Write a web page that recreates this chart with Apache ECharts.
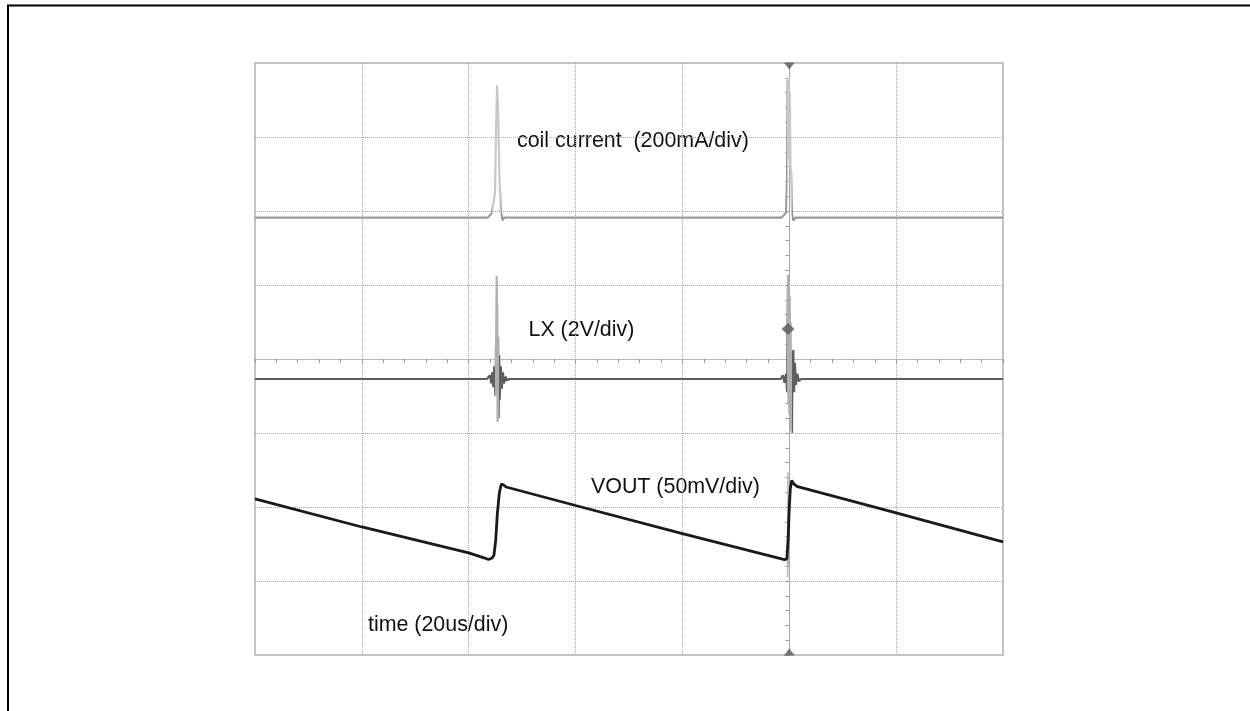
<!DOCTYPE html>
<html>
<head>
<meta charset="utf-8">
<script src="https://cdn.jsdelivr.net/npm/echarts@6/dist/echarts.min.js"></script>
<style>
  html, body { margin: 0; padding: 0; background: #ffffff; }
  #chart { width: 1250px; height: 711px; }
</style>
</head>
<body>
<div id="chart"></div>
<script>
// Time in microseconds relative to the trigger point (20 us/div, 7 divisions)
// Values in screen divisions relative to the centre line (8 divisions)

// coil current (200mA/div)
const coilT = [-100, -56.4, -55.7, -55.4, -55.08, -54.9, -54.7, -54.46, -54.27, -54.0, -53.64, -53.4,
               -1.42, -0.61, -0.42, -0.32, -0.22, -0.12, 0.0, 0.1, 0.22, 0.35, 0.5, 0.76, 1.2, 40];
const coilV = [1.91, 1.91, 1.97, 2.10, 2.24, 3.05, 3.70, 3.27, 2.51, 2.01, 1.87, 1.91,
               1.91, 1.98, 2.45, 3.77, 2.7, 3.80, 2.9, 3.6, 2.6, 2.51, 1.97, 1.87, 1.91, 1.91];

// LX (2V/div)
const lxT = [-100, -56.6, -56.0, -55.8, -55.6, -55.4, -55.2, -55.0, -54.85, -54.75, -54.7, -54.65, -54.6,
             -54.5, -54.4, -54.3, -54.2, -54.0, -53.8, -53.6, -53.4, -53.1, -52.8, -52.4,
             -1.6, -1.2, -0.9, -0.6, -0.4, -0.3, -0.22, -0.15, -0.08, 0.0, 0.08, 0.16, 0.24, 0.35,
             0.5, 0.6, 0.75, 0.9, 1.05, 1.25, 1.5, 1.8, 2.2, 40];
const lxV = [-0.27, -0.27, -0.22, -0.33, -0.18, -0.38, -0.10, -0.50, 0.40, 1.12, -0.20, 0.75, -0.85,
             0.30, -0.80, 0.05, -0.55, -0.10, -0.40, -0.18, -0.33, -0.24, -0.29, -0.27,
             -0.27, -0.22, -0.32, -0.20, -0.45, 0.6, 1.14, -0.6, 1.0, -0.75, 0.85, -0.8, 0.5, -0.95,
             -1.0, 0.05, 0.12, -0.45, -0.05, -0.35, -0.2, -0.3, -0.27, -0.27];

// VOUT (50mV/div)
const voutT = [-100, -80, -60, -57, -56.3, -55.6, -55.27, -54.95, -54.64, -54.27, -53.9, -53.5, -53.0,
               -40, -20, -2, -0.9, -0.45, -0.2, 0.0, 0.2, 0.45, 0.75, 1.4, 20, 40];
const voutV = [-1.89, -2.27, -2.62, -2.69, -2.71, -2.69, -2.65, -2.45, -2.09, -1.81, -1.69, -1.70, -1.73,
               -1.98, -2.36, -2.69, -2.71, -2.70, -2.40, -2.00, -1.75, -1.64, -1.68, -1.72, -2.08, -2.47];

// VOUT switching glitch at the trigger
const glitchT = [-0.35, -0.3, -0.25, -0.2, -0.15];
const glitchV = [-2.70, -2.95, -1.53, -2.80, -2.0];

// scope markers: trigger position (top/bottom) and LX ground marker
const trigMarkT = [0, 0];
const trigMarkV = [4, -4];
const lxMarkT = [-0.24];
const lxMarkV = [0.405];

// annotation texts
const labels = ['coil current  (200mA/div)', 'LX (2V/div)', 'VOUT (50mV/div)', 'time (20us/div)'];

const zip = (a, b) => a.map((v, i) => [v, b[i]]);

const chart = echarts.init(document.getElementById('chart'), null, { renderer: 'canvas' });

const gridDash = [1, 1];
const gridColor = '#a8a8a8';
const font = '21.4px "Liberation Sans", Arial, sans-serif';

const option = {
  animation: false,
  backgroundColor: '#ffffff',
  grid: {
    left: 255, top: 63, width: 748, height: 592,
    show: true, borderColor: '#c4c4c4', borderWidth: 2, backgroundColor: 'transparent'
  },
  xAxis: {
    type: 'value', min: -100, max: 40, interval: 20,
    axisLabel: { show: false },
    axisLine: { show: true, onZero: true, lineStyle: { color: gridColor, type: gridDash, width: 1 } },
    axisTick: { show: true, length: 4, lineStyle: { color: '#9a9a9a' } },
    minorTick: { show: true, splitNumber: 5, length: 4, lineStyle: { color: '#9a9a9a' } },
    splitLine: { show: true, showMinLine: false, showMaxLine: false,
                 lineStyle: { color: gridColor, type: gridDash, width: 1 } }
  },
  yAxis: {
    type: 'value', min: -4, max: 4, interval: 1,
    axisLabel: { show: false },
    axisLine: { show: true, onZero: true, lineStyle: { color: gridColor, type: gridDash, width: 1 } },
    axisTick: { show: true, length: 4, lineStyle: { color: '#9a9a9a' } },
    minorTick: { show: true, splitNumber: 5, length: 4, lineStyle: { color: '#9a9a9a' } },
    splitLine: { show: true, showMinLine: false, showMaxLine: false,
                 lineStyle: { color: gridColor, type: gridDash, width: 1 } }
  },
  visualMap: [
    {
      type: 'piecewise', show: false, dimension: 0, seriesIndex: 0,
      pieces: [
        { gt: -55.6, lte: -53.9, color: '#c8c8c8' },
        { gt: -0.5, lte: 0.6, color: '#c8c8c8' }
      ],
      outOfRange: { color: '#9a9a9a' }
    },
    {
      type: 'piecewise', show: false, dimension: 0, seriesIndex: 1,
      pieces: [
        { gt: -55.05, lte: -54.25, color: '#b0b0b0' },
        { gt: -0.42, lte: 0.55, color: '#b0b0b0' }
      ],
      outOfRange: { color: '#5e5e5e' }
    }
  ],
  series: [
    {
      name: 'coil current', type: 'line', data: zip(coilT, coilV),
      showSymbol: false, symbol: 'none', lineStyle: { width: 2.2 }, z: 3
    },
    {
      name: 'LX', type: 'line', data: zip(lxT, lxV),
      showSymbol: false, symbol: 'none', lineStyle: { width: 2.2 }, z: 3
    },
    {
      name: 'VOUT glitch', type: 'line', data: zip(glitchT, glitchV),
      showSymbol: false, symbol: 'none', lineStyle: { width: 1.5, color: '#b8b8b8' }, z: 3
    },
    {
      name: 'VOUT', type: 'line', data: zip(voutT, voutV),
      showSymbol: false, symbol: 'none', lineStyle: { width: 2.8, color: '#1a1a1a' }, z: 4
    },
    {
      name: 'trigger top', type: 'scatter', data: [[trigMarkT[0], trigMarkV[0]]],
      symbol: 'triangle', symbolSize: [11, 7], symbolRotate: 180, symbolOffset: [0, 3],
      itemStyle: { color: '#5a5a5a' }, z: 5
    },
    {
      name: 'trigger bottom', type: 'scatter', data: [[trigMarkT[1], trigMarkV[1]]],
      symbol: 'triangle', symbolSize: [11, 7], symbolOffset: [0, -3],
      itemStyle: { color: '#5a5a5a' }, z: 5
    },
    {
      name: 'LX marker', type: 'scatter', data: zip(lxMarkT, lxMarkV),
      symbol: 'diamond', symbolSize: [13, 12],
      itemStyle: { color: '#5a5a5a' }, z: 5
    }
  ],
  graphic: [
    {
      type: 'polyline', silent: true,
      shape: { points: [[8, 711], [8, 5.5], [1250, 5.5]] },
      style: { stroke: '#000000', lineWidth: 2, fill: null }
    },
    { type: 'text', x: 517, y: 141, style: { text: labels[0], font: font, fill: '#111', verticalAlign: 'middle' } },
    { type: 'text', x: 528.5, y: 330.5, style: { text: labels[1], font: font, fill: '#111', verticalAlign: 'middle' } },
    { type: 'text', x: 591, y: 487, style: { text: labels[2], font: font, fill: '#111', verticalAlign: 'middle' } },
    { type: 'text', x: 368, y: 625.5, style: { text: labels[3], font: font, fill: '#111', verticalAlign: 'middle' } }
  ]
};

chart.setOption(option);
</script>
</body>
</html>
